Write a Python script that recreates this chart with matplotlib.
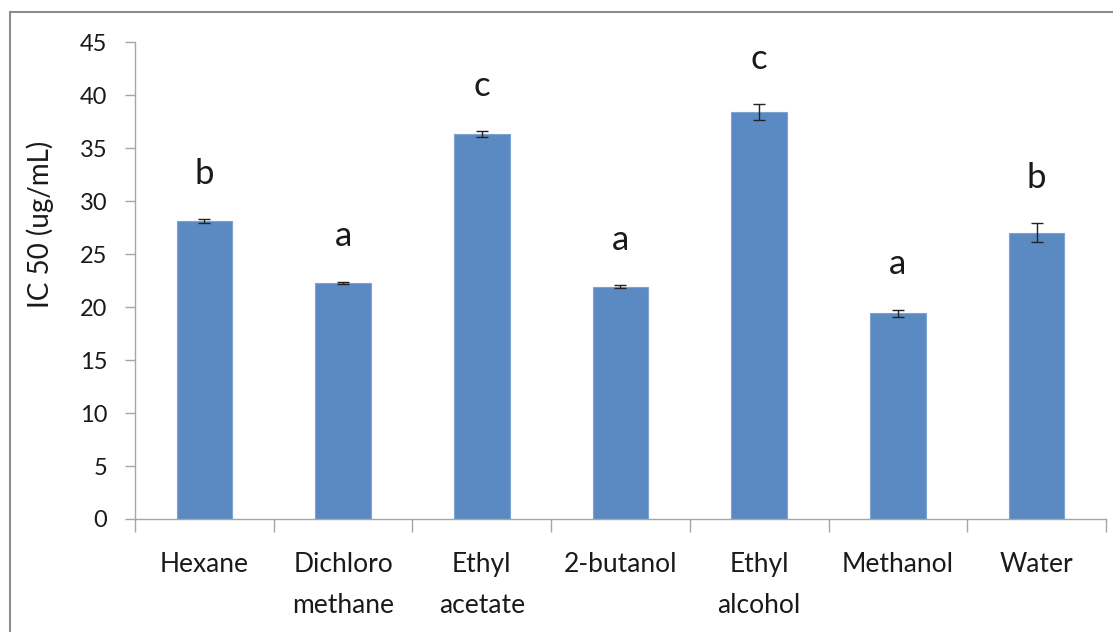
import matplotlib
matplotlib.use("Agg")
import matplotlib.pyplot as plt
from matplotlib.patches import Rectangle

# Solvent extracts and their IC50 values (ug/mL) with standard deviation
solvents = ["Hexane", "Dichloro\nmethane", "Ethyl\nacetate", "2-butanol",
            "Ethyl\nalcohol", "Methanol", "Water"]
ic50 = [28.1, 22.3, 36.3, 21.9, 38.4, 19.4, 27.0]
sd = [0.17, 0.1, 0.28, 0.13, 0.74, 0.36, 0.9]
groups = ["b", "a", "c", "a", "c", "a", "b"]
yticks = [0, 5, 10, 15, 20, 25, 30, 35, 40, 45]

plt.rcParams["font.family"] = ["Lato", "DejaVu Sans"]

fig = plt.figure(figsize=(11.13, 6.32), dpi=100)
ax = fig.add_axes([0.1213, 0.1788, 0.8724, 0.7547])

# frame around the whole chart area
fig.patches.append(Rectangle((10 / 1113, -0.05), 1.2, 1 - 12 / 632 + 0.05,
                             transform=fig.transFigure, fill=False,
                             edgecolor="#8c8c8c", linewidth=1.5, zorder=0))

x = list(range(len(solvents)))
ax.bar(x, ic50, width=0.4, color="#5B8AC3", edgecolor="#7fa3d1",
       linewidth=0.8, zorder=2)
ax.errorbar(x, ic50, yerr=sd, fmt="none", ecolor="#222222",
            elinewidth=1.0, capsize=4, capthick=1.0, zorder=3)

for xi, v, e, g in zip(x, ic50, sd, groups):
    ax.annotate(g, (xi, v + e), xytext=(0, 21), textcoords="offset points",
                ha="center", va="bottom", fontsize=25, color="#1a1a1a")

ax.set_xlim(-0.5, len(solvents) - 0.5)
ax.set_ylim(0, 45)
ax.set_yticks(yticks)
ax.tick_params(axis="y", length=7, width=1, color="#a6a6a6", pad=13,
               labelsize=17, labelcolor="#1a1a1a")

ax.set_xticks(x)
ax.set_xticklabels(solvents, linespacing=1.8)
ax.set_xticks([i - 0.5 for i in range(len(solvents) + 1)], minor=True)
ax.tick_params(axis="x", which="major", length=0, pad=24, labelsize=19,
               labelcolor="#1a1a1a")
ax.tick_params(axis="x", which="minor", length=9, width=1, color="#a6a6a6")
for lbl in ax.get_xticklabels():
    lbl.set_verticalalignment("top")

for s in ["top", "right"]:
    ax.spines[s].set_visible(False)
for s in ["left", "bottom"]:
    ax.spines[s].set_color("#a6a6a6")
    ax.spines[s].set_linewidth(1)

ax.set_ylabel("IC 50 (ug/mL)", fontsize=20, color="#1a1a1a")
ax.yaxis.set_label_coords(-0.083, 0.618)

fig.savefig("out.png", dpi=100)
